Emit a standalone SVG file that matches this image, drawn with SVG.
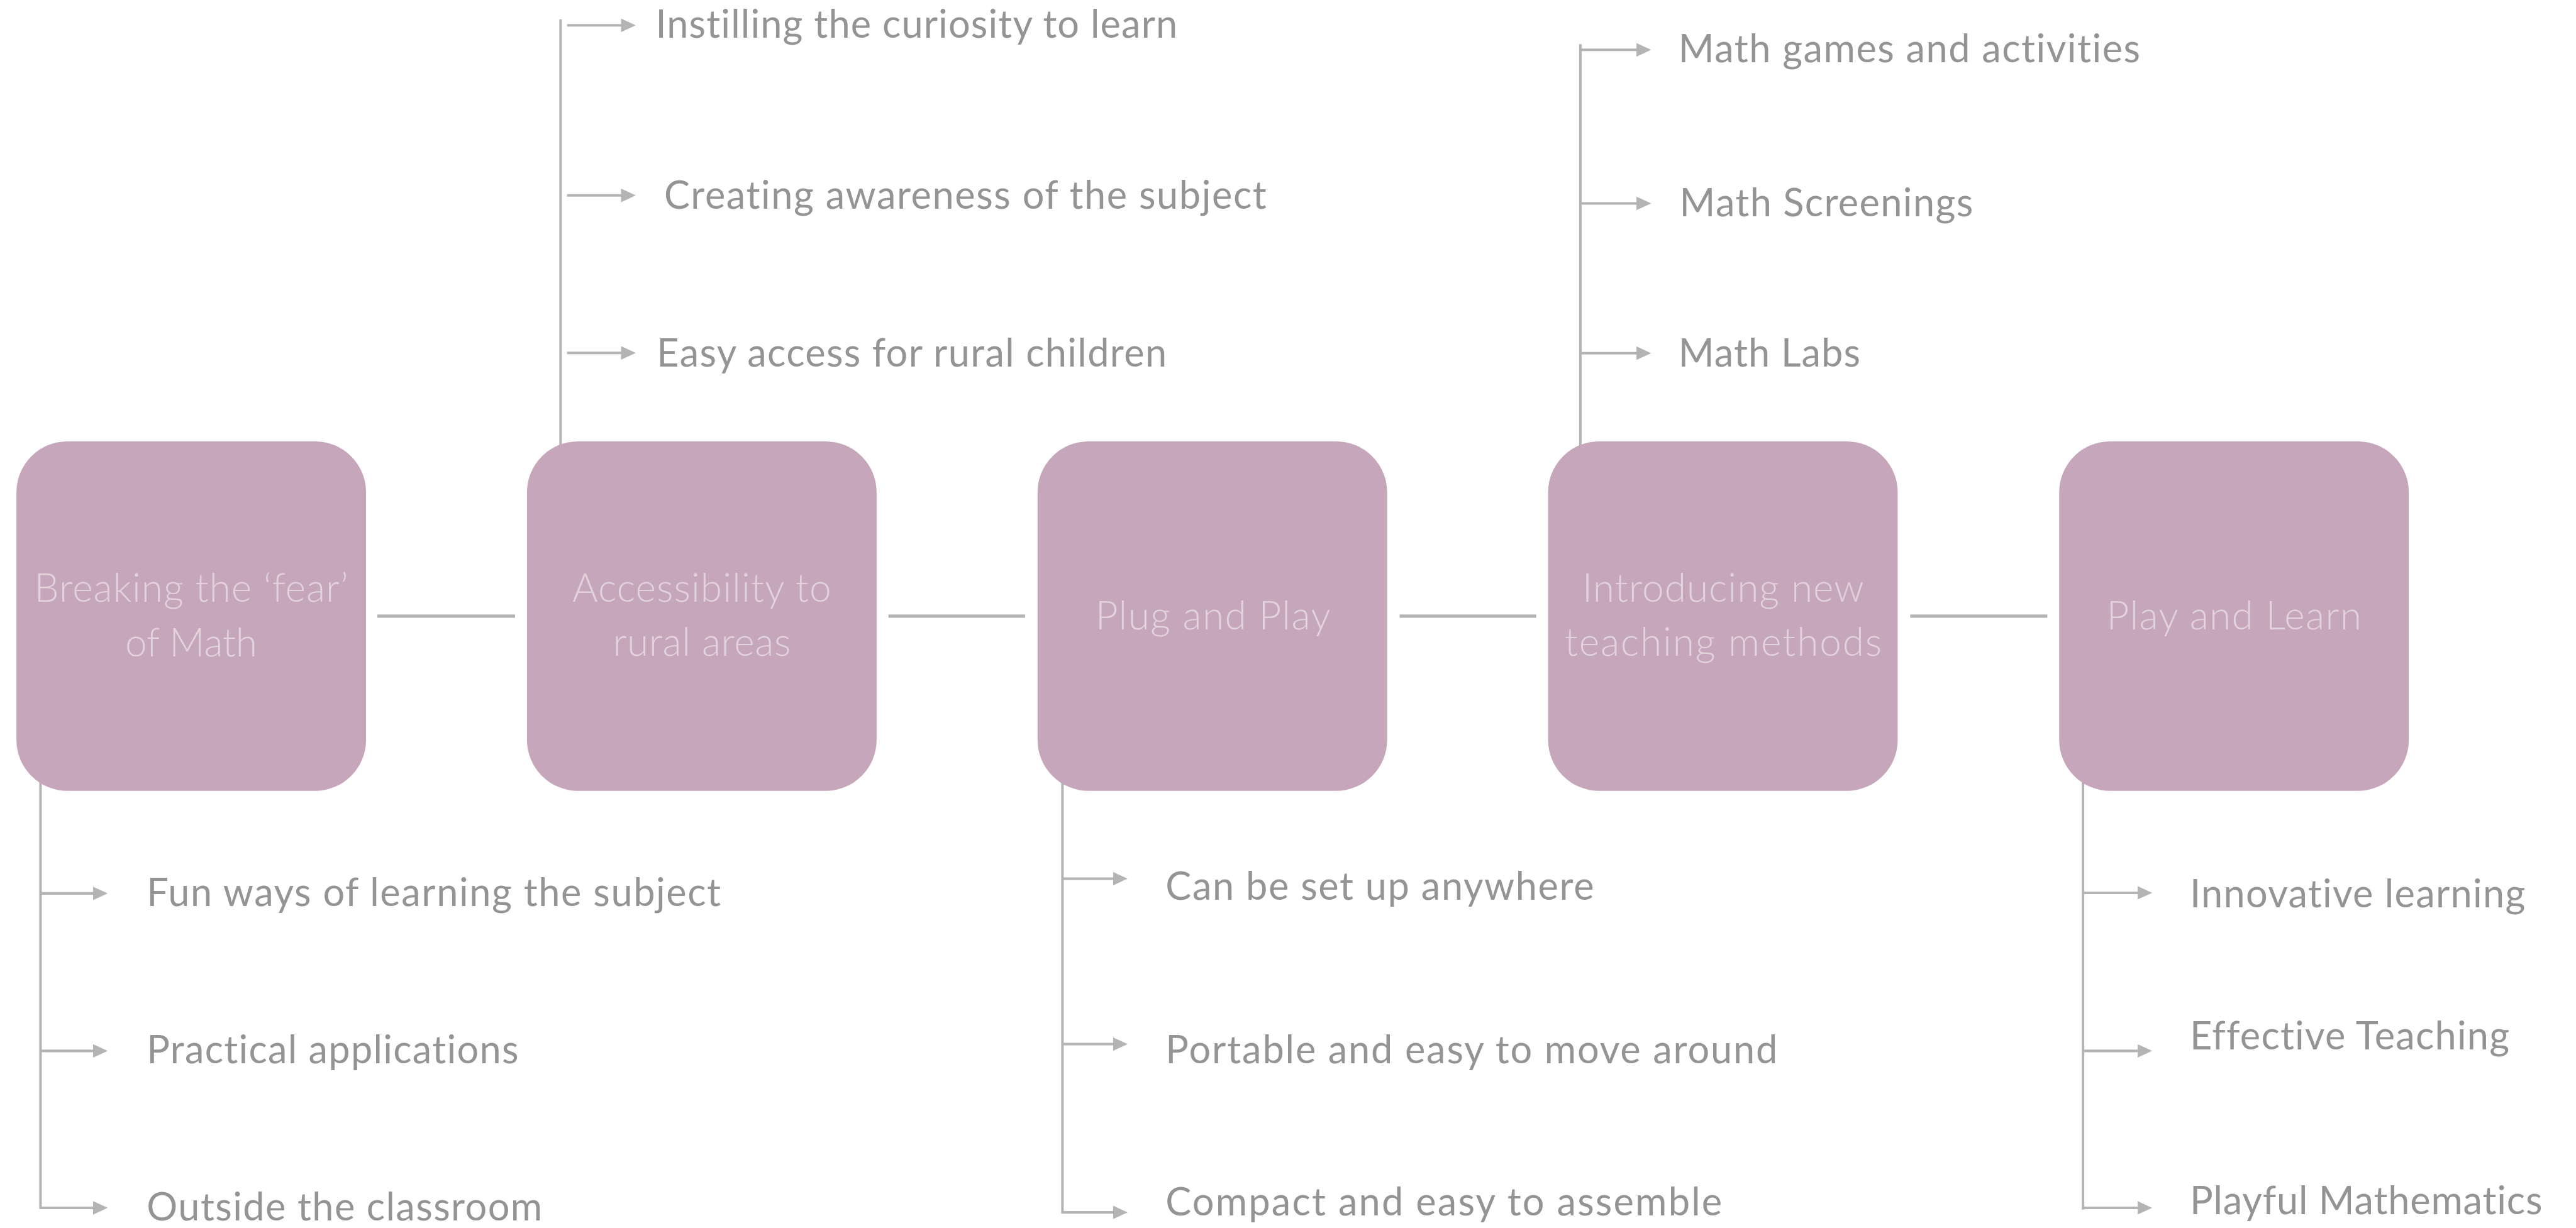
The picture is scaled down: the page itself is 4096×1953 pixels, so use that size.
<svg xmlns="http://www.w3.org/2000/svg" width="4096" height="1953" viewBox="0 0 4096 1953">
  <defs>
    <marker id="head" markerUnits="userSpaceOnUse" markerWidth="26" markerHeight="24" refX="6" refY="12" orient="auto">
      <path d="M0,0 L26,12 L0,24 Z" fill="#b4b4b4"/>
    </marker>
    <style>
      .box { fill: #c5a6ba; }
      .node-text { font-family: Lato, "Open Sans", "Liberation Sans", sans-serif; font-weight: 300; font-size: 69px; fill: #e2d3dd; text-anchor: middle; font-variant-ligatures: none; }
      .label { font-family: Lato, "Open Sans", "Liberation Sans", sans-serif; font-weight: 400; font-size: 68px; fill: #949494; font-variant-ligatures: none; }
      .link { stroke: #b4b4b4; stroke-width: 6; fill: none; }
      .stem { stroke: #b4b4b4; stroke-width: 4.5; fill: none; }
      .arrow { stroke: #b4b4b4; stroke-width: 4.5; fill: none; marker-end: url(#head); }
    </style>
  </defs>
  <rect width="4096" height="1953" fill="#ffffff"/>
  <g transform="scale(0.901)">
    <!-- links between the five stage boxes, plus the branch trees -->
    <g id="connectors">
      <line class="link" x1="666" y1="1087.5" x2="909" y2="1087.5"/>
      <line class="link" x1="1568" y1="1087.5" x2="1809" y2="1087.5"/>
      <line class="link" x1="2470" y1="1087.5" x2="2711" y2="1087.5"/>
      <line class="link" x1="3371" y1="1087.5" x2="3613" y2="1087.5"/>

      <!-- branch below stage 1 -->
      <line class="stem" x1="71.5" y1="1377" x2="71.5" y2="2134"/>
      <line class="arrow" x1="71.5" y1="1577" x2="170" y2="1577"/>
      <line class="arrow" x1="71.5" y1="1855" x2="170" y2="1855"/>
      <line class="arrow" x1="71.5" y1="2132" x2="170" y2="2132"/>

      <!-- branch above stage 2 -->
      <line class="stem" x1="989.3" y1="34" x2="989.3" y2="792"/>
      <line class="arrow" x1="1000.7" y1="44.7" x2="1102" y2="44.7"/>
      <line class="arrow" x1="1000.7" y1="345" x2="1102" y2="345"/>
      <line class="arrow" x1="1000.7" y1="623" x2="1102" y2="623"/>

      <!-- branch below stage 3 -->
      <line class="stem" x1="1875" y1="1371" x2="1875" y2="2142"/>
      <line class="arrow" x1="1875" y1="1551" x2="1970" y2="1551"/>
      <line class="arrow" x1="1875" y1="1843" x2="1970" y2="1843"/>
      <line class="arrow" x1="1875" y1="2140" x2="1970" y2="2140"/>

      <!-- branch above stage 4 -->
      <line class="stem" x1="2789" y1="78" x2="2789" y2="799"/>
      <line class="arrow" x1="2789" y1="88" x2="2894" y2="88"/>
      <line class="arrow" x1="2789" y1="359" x2="2894" y2="359"/>
      <line class="arrow" x1="2789" y1="623.4" x2="2894" y2="623.4"/>

      <!-- branch below stage 5 -->
      <line class="stem" x1="3676" y1="1378" x2="3676" y2="2135"/>
      <line class="arrow" x1="3676" y1="1576" x2="3778" y2="1576"/>
      <line class="arrow" x1="3676" y1="1855" x2="3778" y2="1855"/>
      <line class="arrow" x1="3676" y1="2132" x2="3778" y2="2132"/>
    </g>

    <g id="stage-fear">
      <rect class="box" x="29" y="779" width="617" height="617" rx="90"/>
      <text class="node-text" x="337.5" y="1062.5" textLength="554">Breaking the ‘fear’</text>
      <text class="node-text" x="337.5" y="1158.5" textLength="233">of Math</text>
    </g>
    <g id="stage-access">
      <rect class="box" x="930" y="779" width="617" height="617" rx="90"/>
      <text class="node-text" x="1238.5" y="1062" textLength="457">Accessibility to</text>
      <text class="node-text" x="1238.5" y="1158" textLength="314">rural areas</text>
    </g>
    <g id="stage-plug">
      <rect class="box" x="1831" y="779" width="617" height="617" rx="90"/>
      <text class="node-text" x="2140.5" y="1111.5" textLength="415">Plug and Play</text>
    </g>
    <g id="stage-methods">
      <rect class="box" x="2732" y="779" width="617" height="617" rx="90"/>
      <text class="node-text" x="3041" y="1062" textLength="497">Introducing new</text>
      <text class="node-text" x="3041" y="1158" textLength="560">teaching methods</text>
    </g>
    <g id="stage-play">
      <rect class="box" x="3634" y="779" width="617" height="617" rx="90"/>
      <text class="node-text" x="3942.5" y="1111.5" textLength="450">Play and Learn</text>
    </g>

    <g id="items-fear">
      <text class="label" x="259" y="1599" textLength="1013">Fun ways of learning the subject</text>
      <text class="label" x="259" y="1877" textLength="656">Practical applications</text>
      <text class="label" x="259" y="2154" textLength="698">Outside the classroom</text>
    </g>
    <g id="items-access">
      <text class="label" x="1157" y="67" textLength="921">Instilling the curiosity to learn</text>
      <text class="label" x="1172" y="368.7" textLength="1063">Creating awareness of the subject</text>
      <text class="label" x="1159" y="647" textLength="900">Easy access for rural children</text>
    </g>
    <g id="items-plug">
      <text class="label" x="2057" y="1588.6" textLength="756">Can be set up anywhere</text>
      <text class="label" x="2057" y="1876.5" textLength="1080">Portable and easy to move around</text>
      <text class="label" x="2057" y="2145" textLength="982">Compact and easy to assemble</text>
    </g>
    <g id="items-methods">
      <text class="label" x="2962" y="110" textLength="815">Math games and activities</text>
      <text class="label" x="2964" y="382" textLength="518">Math Screenings</text>
      <text class="label" x="2962" y="647" textLength="321">Math Labs</text>
    </g>
    <g id="items-play">
      <text class="label" x="3864.6" y="1601" textLength="592">Innovative learning</text>
      <text class="label" x="3864.6" y="1852.5" textLength="564">Effective Teaching</text>
      <text class="label" x="3864.6" y="2143" textLength="622">Playful Mathematics</text>
    </g>
  </g>
</svg>
